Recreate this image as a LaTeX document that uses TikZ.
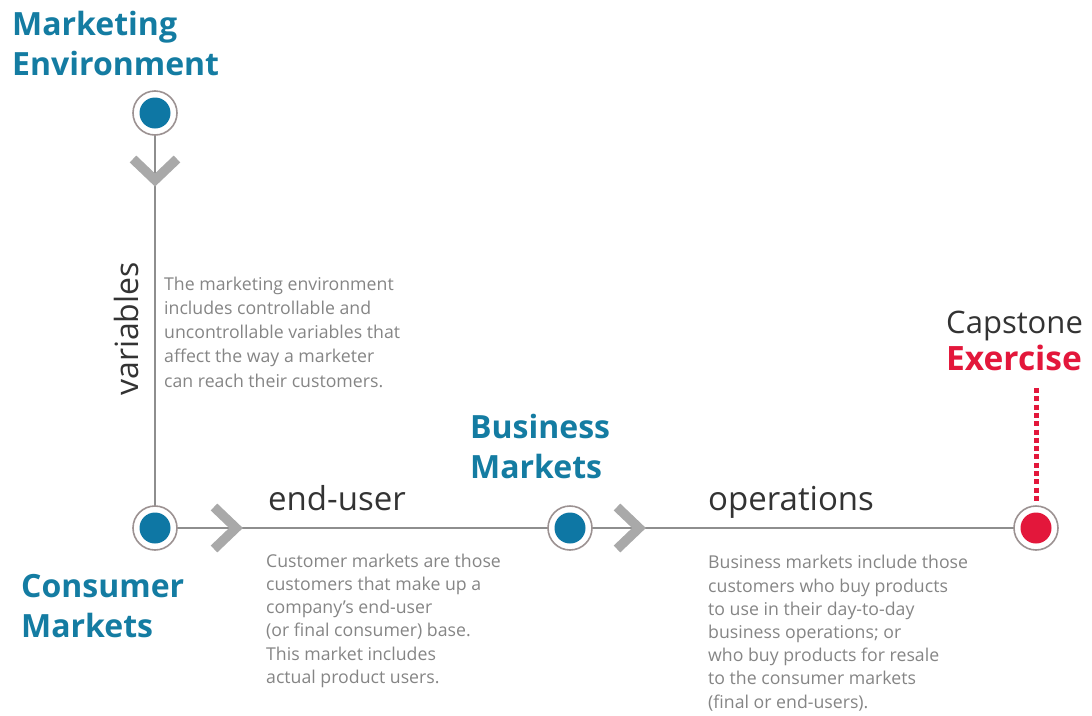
\documentclass[tikz,border=0pt]{standalone}
\usepackage{fontspec}
\setmainfont{Open Sans}
\begin{document}
\definecolor{mktblue}{HTML}{147CA2}
\definecolor{dotblue}{HTML}{0E77A4}
\definecolor{capred}{HTML}{E3173B}
\definecolor{chevgray}{HTML}{A9A9A9}
\definecolor{linegray}{HTML}{8E8E8E}
\definecolor{ringgray}{HTML}{9C9292}
\definecolor{bodygray}{HTML}{858585}
\definecolor{wordgray}{HTML}{333333}
% multi-line nodes sit on the baseline of their last line
\begin{tikzpicture}[x=1pt,y=-1pt,
  heading/.style={anchor=base west,inner sep=0pt,align=left,text=mktblue,
    font=\fontsize{32}{39.5}\selectfont\bfseries},
  bigword/.style={anchor=base west,inner sep=0pt,text=wordgray,
    font=\fontsize{33}{36}\selectfont},
  body/.style={anchor=base west,inner sep=0pt,align=left,text=bodygray,
    font=\fontsize{17.7}{23.3}\selectfont},
  stop/.style={circle,draw=ringgray,line width=1.6pt,fill=white,
    minimum size=44pt,inner sep=0pt},
  chevron/.style={draw=chevgray,line width=9.5pt,line join=miter,line cap=butt},
  link/.style={draw=linegray,line width=1.4pt}]
\useasboundingbox (0,0) rectangle (1092,715);

% milestone circles
\coordinate (me) at (155,113);
\coordinate (cm) at (155,528);
\coordinate (bm) at (570,528);
\coordinate (ce) at (1036,528);
\coordinate (dotTop) at (1036,388);
\coordinate (dotEnd) at (1036,504);

% connectors
\draw[link] (me) -- (cm);
\draw[link] (cm) -- (ce);
\draw[capred,line width=5pt,dash pattern=on 5pt off 3.3pt] (dotTop) -- (dotEnd);

% chevrons along the path
\draw[chevron] (133,159) -- (155,180) -- (177,159);
\draw[chevron] (214,507) -- (236,528) -- (214,549);
\draw[chevron] (617,507) -- (639,528) -- (617,549);

% stops
\foreach \p/\c in {me/dotblue,cm/dotblue,bm/dotblue,ce/capred}{
  \node[stop] (ring-\p) at (\p) {};
  \fill[\c] (\p) circle (15.5pt);
}

% headings
\node[heading] (hME) at (12,75) {Marketing\\Environment};
\node[heading] (hCM) at (21,637) {Consumer\\Markets};
\node[heading] (hBM) at (470,478) {Business\\Markets};
\node[bigword,font=\fontsize{31}{36}\selectfont] (hCap) at (946,333) {Capstone};
\node[heading,text=capred,font=\fontsize{33.5}{39.5}\selectfont\bfseries] (hEx) at (946,370) {Exercise};

% phase words
\node[bigword,rotate=90,font=\fontsize{32}{36}\selectfont] (wVar) at (138,396) {variables};
\node[bigword] (wEnd) at (268,510) {end-user};
\node[bigword] (wOps) at (708,510) {operations};

% descriptions
\node[body,font=\fontsize{17.7}{24.2}\selectfont] (dME) at (164,387) {The marketing environment\\includes controllable and\\uncontrollable variables that\\affect the way a marketer\\can reach their customers.};
\node[body] (dCM) at (266,683.5) {Customer markets are those\\customers that make up a\\company’s end-user\\(or final consumer) base.\\This market includes\\actual product users.};
\node[body,font=\fontsize{17.7}{23.2}\selectfont] (dBM) at (708,708) {Business markets include those\\customers who buy products\\to use in their day-to-day\\business operations; or\\who buy products for resale\\to the consumer markets\\(final or end-users).};
\end{tikzpicture}
\end{document}
